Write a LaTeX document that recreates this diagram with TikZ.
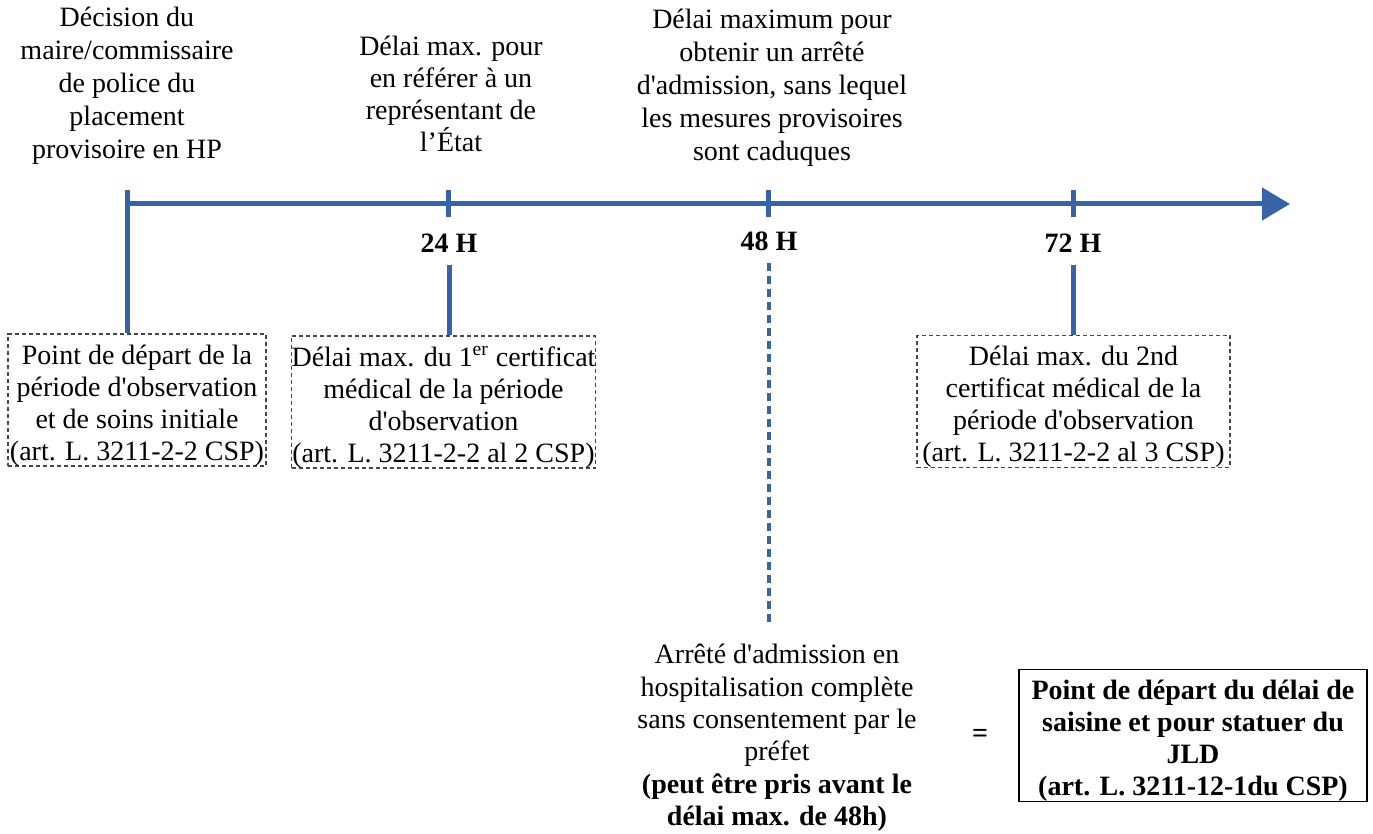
\documentclass[tikz,border=0pt]{standalone}
\usepackage{fontspec}
\setmainfont{Liberation Serif}
\usetikzlibrary{arrows.meta}
\definecolor{axisblue}{RGB}{56,99,166}
\newcommand{\sq}{\textquotesingle}
\newcommand{\boxstrut}{\rule{0pt}{15pt}}
\tikzset{every picture/.style={line width=0.75pt}}

\begin{document}
\begin{tikzpicture}[x=0.5pt,y=0.5pt,yscale=-1,xscale=1,
	txt/.style={align=center,inner sep=0pt,font=\fontsize{14}{16}\selectfont},
	txttop/.style={txt,font=\fontsize{14}{16.5}\selectfont},
	txtbold/.style={txt,font=\fontsize{14}{16}\selectfont\bfseries},
	hour/.style={txtbold,minimum height=21pt},
	dbox/.style={txt,draw={rgb, 255:red, 70; green, 70; blue, 70},dash pattern=on 2pt off 1.5pt,line width=0.6pt},
	axis/.style={draw=axisblue,line width=2.5pt}]
	\useasboundingbox (0,0) rectangle (1373,834);
	
	%Axis points
	\coordinate (t0) at (127,204);
	\coordinate (t24) at (448,204);
	\coordinate (t48) at (768,204);
	\coordinate (t72) at (1073,204);
	\coordinate (tEnd) at (1290,204);
	
	%Texts above the axis
	\node [txttop] (tDecision) at (127,86) {Décision du\\maire/commissaire\\de police du\\placement\\provisoire en HP};
	\node [txt] (tEtat) at (451,94) {Délai max. pour\\en référer à un\\représentant de\\l’État};
	\node [txttop] (tArrete) at (772,88) {Délai maximum pour\\obtenir un arrêté\\d\sq admission, sans lequel\\les mesures provisoires\\sont caduques};
	
	%Hours
	\node [hour] (h24) at (449,243) {24 H};
	\node [hour] (h48) at (769,241) {48 H};
	\node [hour] (h72) at (1073,243) {72 H};
	
	%Dashed boxes
	\node [dbox,minimum width=129pt,minimum height=65pt] (bStart) at (137,400) {\boxstrut Point de départ de la\\période d\sq observation\\et de soins initiale\\(art. L. 3211-2-2 CSP)};
	\node [dbox,minimum width=151.5pt,minimum height=65pt] (bCert1) at (443.5,402) {\boxstrut Délai max. du 1\textsuperscript{er} certificat\\médical de la période\\d\sq observation\\(art. L. 3211-2-2 al 2 CSP)};
	\node [dbox,minimum width=156.5pt,minimum height=64.5pt] (bCert2) at (1073.5,401.5) {\boxstrut Délai max. du 2nd\\certificat médical de la\\période d\sq observation\\(art. L. 3211-2-2 al 3 CSP)};
	
	%Bottom
	\node [txt,font=\fontsize{14}{16.2}\selectfont] (tPrefet) at (777,738) {Arrêté d\sq admission en\\hospitalisation complète\\sans consentement par le\\préfet\\\textbf{(peut être pris avant le}\\\textbf{délai max. de 48h)}};
	\node [txtbold] (eq) at (980,736) {=};
	\node [txtbold,draw,line width=0.75pt,minimum width=174pt,minimum height=64.5pt] (bJLD) at (1193,735.5) {\boxstrut Point de départ du délai de\\saisine et pour statuer du\\JLD\\(art. L. 3211-12-1du CSP)};
	
	%Axis and ticks
	\draw [axis,-{Triangle[length=14pt,width=16pt]}] (t0) -- (tEnd);
	\draw [axis] (t0) ++(0,-14) -- (t0 |- bStart.north);
	\draw [axis] (t24) ++(0,-14) -- ++(0,27);
	\draw [axis] (t48) ++(0,-14) -- ++(0,27);
	\draw [axis] (t72) ++(0,-14) -- ++(0,27);
	\draw [axis] (h24.south) -- (h24.south |- bCert1.north);
	\draw [axis] (h72.south) -- (h72.south |- bCert2.north);
	\draw [axis,line width=2pt,dash pattern=on 4pt off 2.5pt,shorten >=9pt] (h48.south) -- (h48.south |- tPrefet.north);
	
\end{tikzpicture}
\end{document}
